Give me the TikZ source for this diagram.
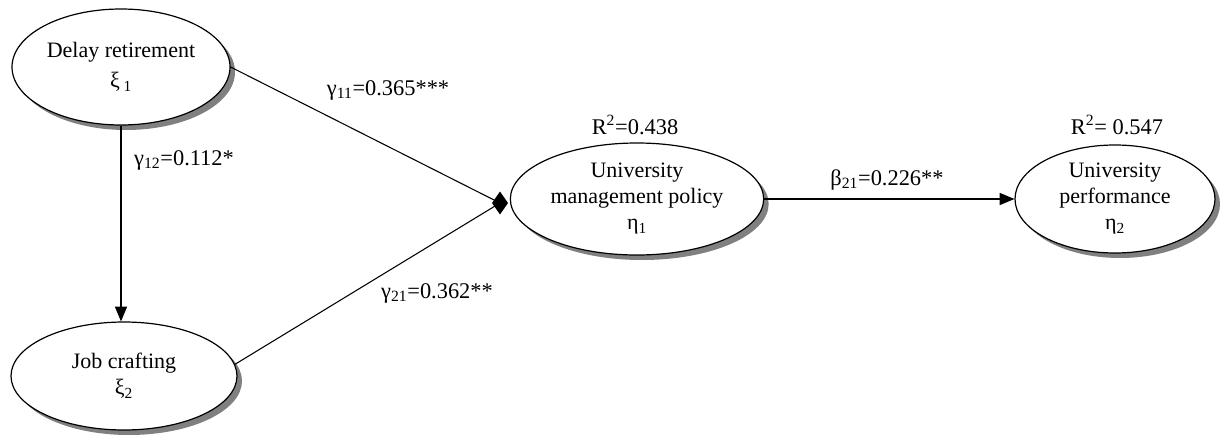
\documentclass[tikz,border=0pt]{standalone}
\usepackage{fontspec}
\setmainfont{Liberation Serif}
\usetikzlibrary{arrows.meta,shapes.geometric,backgrounds}
\begin{document}
\begin{tikzpicture}[x=0.75pt,y=-0.75pt,
  lat/.style={ellipse,draw,line width=0.9pt,inner sep=0pt,align=center,
     font=\fontsize{16.5}{19.5}\selectfont},
  conn/.style={line width=0.8pt},
  arr/.style={conn,-{Triangle[length=11pt,width=9pt]}},
  lbl/.style={font=\fontsize{16.8}{20}\selectfont,inner sep=0pt}]
\useasboundingbox (0,0) rectangle (1224,439);
\node[lat,minimum width=163.5pt,minimum height=87pt] (dr) at (121,67) {Delay retirement\\[3pt]ξ\,\textsubscript{1}};
\node[lat,minimum width=169.5pt,minimum height=81pt] (jc) at (124,376) {Job crafting\\ξ\textsubscript{2}};
\node[lat,minimum width=190pt,minimum height=84pt] (ump) at (637,199) {University\\management policy\\η\textsubscript{1}};
\node[lat,minimum width=150pt,minimum height=81pt] (up) at (1115,199) {University\\performance\\η\textsubscript{2}};
\begin{scope}[on background layer]
\fill[black!50] ([shift={(5,5)}]dr.center) ellipse [x radius=81.75pt, y radius=43.5pt];
\fill[white] (dr.center) ellipse [x radius=81.75pt, y radius=43.5pt];
\fill[black!50] ([shift={(5,5)}]jc.center) ellipse [x radius=84.75pt, y radius=40.5pt];
\fill[white] (jc.center) ellipse [x radius=84.75pt, y radius=40.5pt];
\fill[black!50] ([shift={(5,5)}]ump.center) ellipse [x radius=95pt, y radius=42pt];
\fill[white] (ump.center) ellipse [x radius=95pt, y radius=42pt];
\fill[black!50] ([shift={(5,5)}]up.center) ellipse [x radius=75pt, y radius=40.5pt];
\fill[white] (up.center) ellipse [x radius=75pt, y radius=40.5pt];
\end{scope}
\coordinate (j) at (500,203);
\draw[conn] (dr.east) -- (j);
\draw[conn] (jc.6) -- (j);
\fill (j) +(-8,0) -- +(0,-11.5) -- +(8,0) -- +(0,11.5) -- cycle;
\draw[arr] (dr.south) -- (dr.south |- jc.north);
\draw[arr] (ump.east) -- (up.west);
\node[lbl] (g11) at (388,90) {γ\textsubscript{11}=0.365***};
\node[lbl] (g12) at (184,160) {γ\textsubscript{12}=0.112*};
\node[lbl] (g21) at (437,293) {γ\textsubscript{21}=0.362**};
\node[lbl] (r1) at (635,125) {R\textsuperscript{2}=0.438};
\node[lbl] (b21) at (887,180) {β\textsubscript{21}=0.226**};
\node[lbl] (r2) at (1117,125) {R\textsuperscript{2}= 0.547};
\end{tikzpicture}
\end{document}
